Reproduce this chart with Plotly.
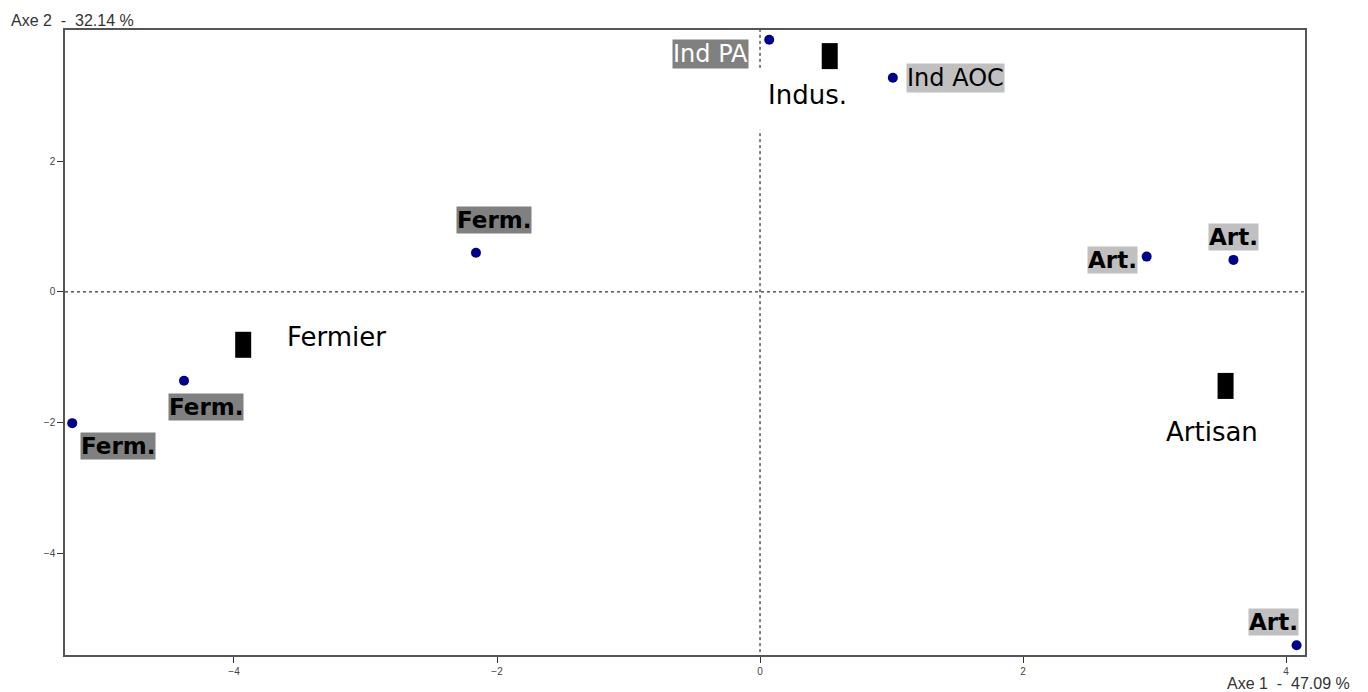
import plotly.graph_objects as go

# Individuals (points)
ind_labels = ["Ind PA", "Ind AOC", "Ferm.", "Ferm.", "Ferm.", "Art.", "Art.", "Art."]
ind_x = [0.07, 1.01, -2.16, -4.38, -5.23, 2.94, 3.60, 4.08]
ind_y = [3.86, 3.28, 0.60, -1.36, -2.01, 0.54, 0.49, -5.41]

# Group centroids
grp_labels = ["Indus.", "Fermier", "Artisan"]
grp_x = [0.53, -3.93, 3.54]
grp_y = [3.61, -0.81, -1.44]

x_ticks = [-4, -2, 0, 2, 4]
y_ticks = [-4, -2, 0, 2]
axe1 = "Axe 1  -  47.09 %"
axe2 = "Axe 2  -  32.14 %"

# label styling (presentation only)
ind_style = {
    "Ind PA": dict(bg="#808080", fc="white", dx=-59, dy=-14),
    "Ind AOC": dict(bg="#c0c0c0", fc="black", dx=63, dy=0),
}
ferm_shift = [(18, 33), (22, -26), (46, -23)]
art_shift = [(-34, -3), (0, 23), (-23, 23)]
grp_shift = [(-22, -39), (93, 8), (-14, -46)]

nb = lambda s: s.replace(" ", "\u00a0")

fig = go.Figure()

# reference dashed lines
fig.add_hline(y=0, line=dict(color="black", width=1, dash="dot"), layer="below")
fig.add_shape(type="line", x0=0, x1=0, y0=3.43, y1=4.1, xref="x", yref="y",
              line=dict(color="black", width=1, dash="dot"), layer="below")
fig.add_shape(type="line", x0=0, x1=0, y0=-5.7, y1=2.48, xref="x", yref="y",
              line=dict(color="black", width=1, dash="dot"), layer="below")

fig.add_trace(go.Scatter(x=ind_x, y=ind_y, mode="markers",
                         marker=dict(color="#00008B", size=10),
                         cliponaxis=False, showlegend=False, hoverinfo="skip"))

# centroid rectangles
for gx, gy in zip(grp_x, grp_y):
    fig.add_shape(type="rect", xref="x", yref="y", xsizemode="pixel", ysizemode="pixel",
                  xanchor=gx, yanchor=gy, x0=-8, x1=8, y0=-13, y1=13,
                  fillcolor="black", line=dict(width=0))

fi = ai = 0
for lab, x, y in zip(ind_labels, ind_x, ind_y):
    if lab in ind_style:
        s = ind_style[lab]
        fig.add_annotation(x=x, y=y, text=nb(lab), showarrow=False, xshift=s["dx"], yshift=s["dy"],
                           bgcolor=s["bg"], borderpad=0,
                           font=dict(family="DejaVu Sans", size=24, color=s["fc"]))
    elif lab == "Ferm.":
        dx, dy = ferm_shift[fi]; fi += 1
        fig.add_annotation(x=x, y=y, text="<b>" + lab + "</b>", showarrow=False, xshift=dx, yshift=dy,
                           bgcolor="#808080", borderpad=0,
                           font=dict(family="DejaVu Sans", size=23, color="black"))
    else:
        dx, dy = art_shift[ai]; ai += 1
        fig.add_annotation(x=x, y=y, text="<b>" + lab + "</b>", showarrow=False, xshift=dx, yshift=dy,
                           bgcolor="#c0c0c0", borderpad=0,
                           font=dict(family="DejaVu Sans", size=23, color="black"))

for lab, x, y, (dx, dy) in zip(grp_labels, grp_x, grp_y, grp_shift):
    fig.add_annotation(x=x, y=y, text=lab, showarrow=False, xshift=dx, yshift=dy,
                       font=dict(family="DejaVu Sans", size=26, color="black"))

fig.add_annotation(xref="paper", yref="paper", x=0, y=1.0, xshift=-56, yshift=10,
                   xanchor="left", yanchor="middle", text=nb(axe2), showarrow=False,
                   font=dict(family="Liberation Sans", size=16, color="#333333"))
fig.add_annotation(xref="paper", yref="paper", x=1, y=0, xshift=47, yshift=-28,
                   xanchor="right", yanchor="middle", text=nb(axe1), showarrow=False,
                   font=dict(family="Liberation Sans", size=16, color="#333333"))

fig.update_xaxes(range=[-5.285, 4.144], tickvals=x_ticks, ticks="outside", ticklen=6,
                 tickcolor="#333", showgrid=False, zeroline=False, showline=True,
                 linecolor="#555", linewidth=1.5, mirror=True,
                 tickfont=dict(family="Liberation Sans Narrow, Liberation Sans", size=10, color="#444"))
fig.update_yaxes(range=[-5.56, 4.01], tickvals=y_ticks, ticks="outside", ticklen=6,
                 tickcolor="#333", showgrid=False, zeroline=False, showline=True,
                 linecolor="#555", linewidth=1.5, mirror=True,
                 tickfont=dict(family="Liberation Sans", size=10, color="#444"))

fig.update_layout(width=1368, height=692, plot_bgcolor="white", paper_bgcolor="white",
                  margin=dict(l=65, r=63, t=30, b=37), showlegend=False)

fig.write_html("out.html", config={"displayModeBar": False},
               post_script="document.body.style.margin='0';document.body.style.overflow='hidden';")
